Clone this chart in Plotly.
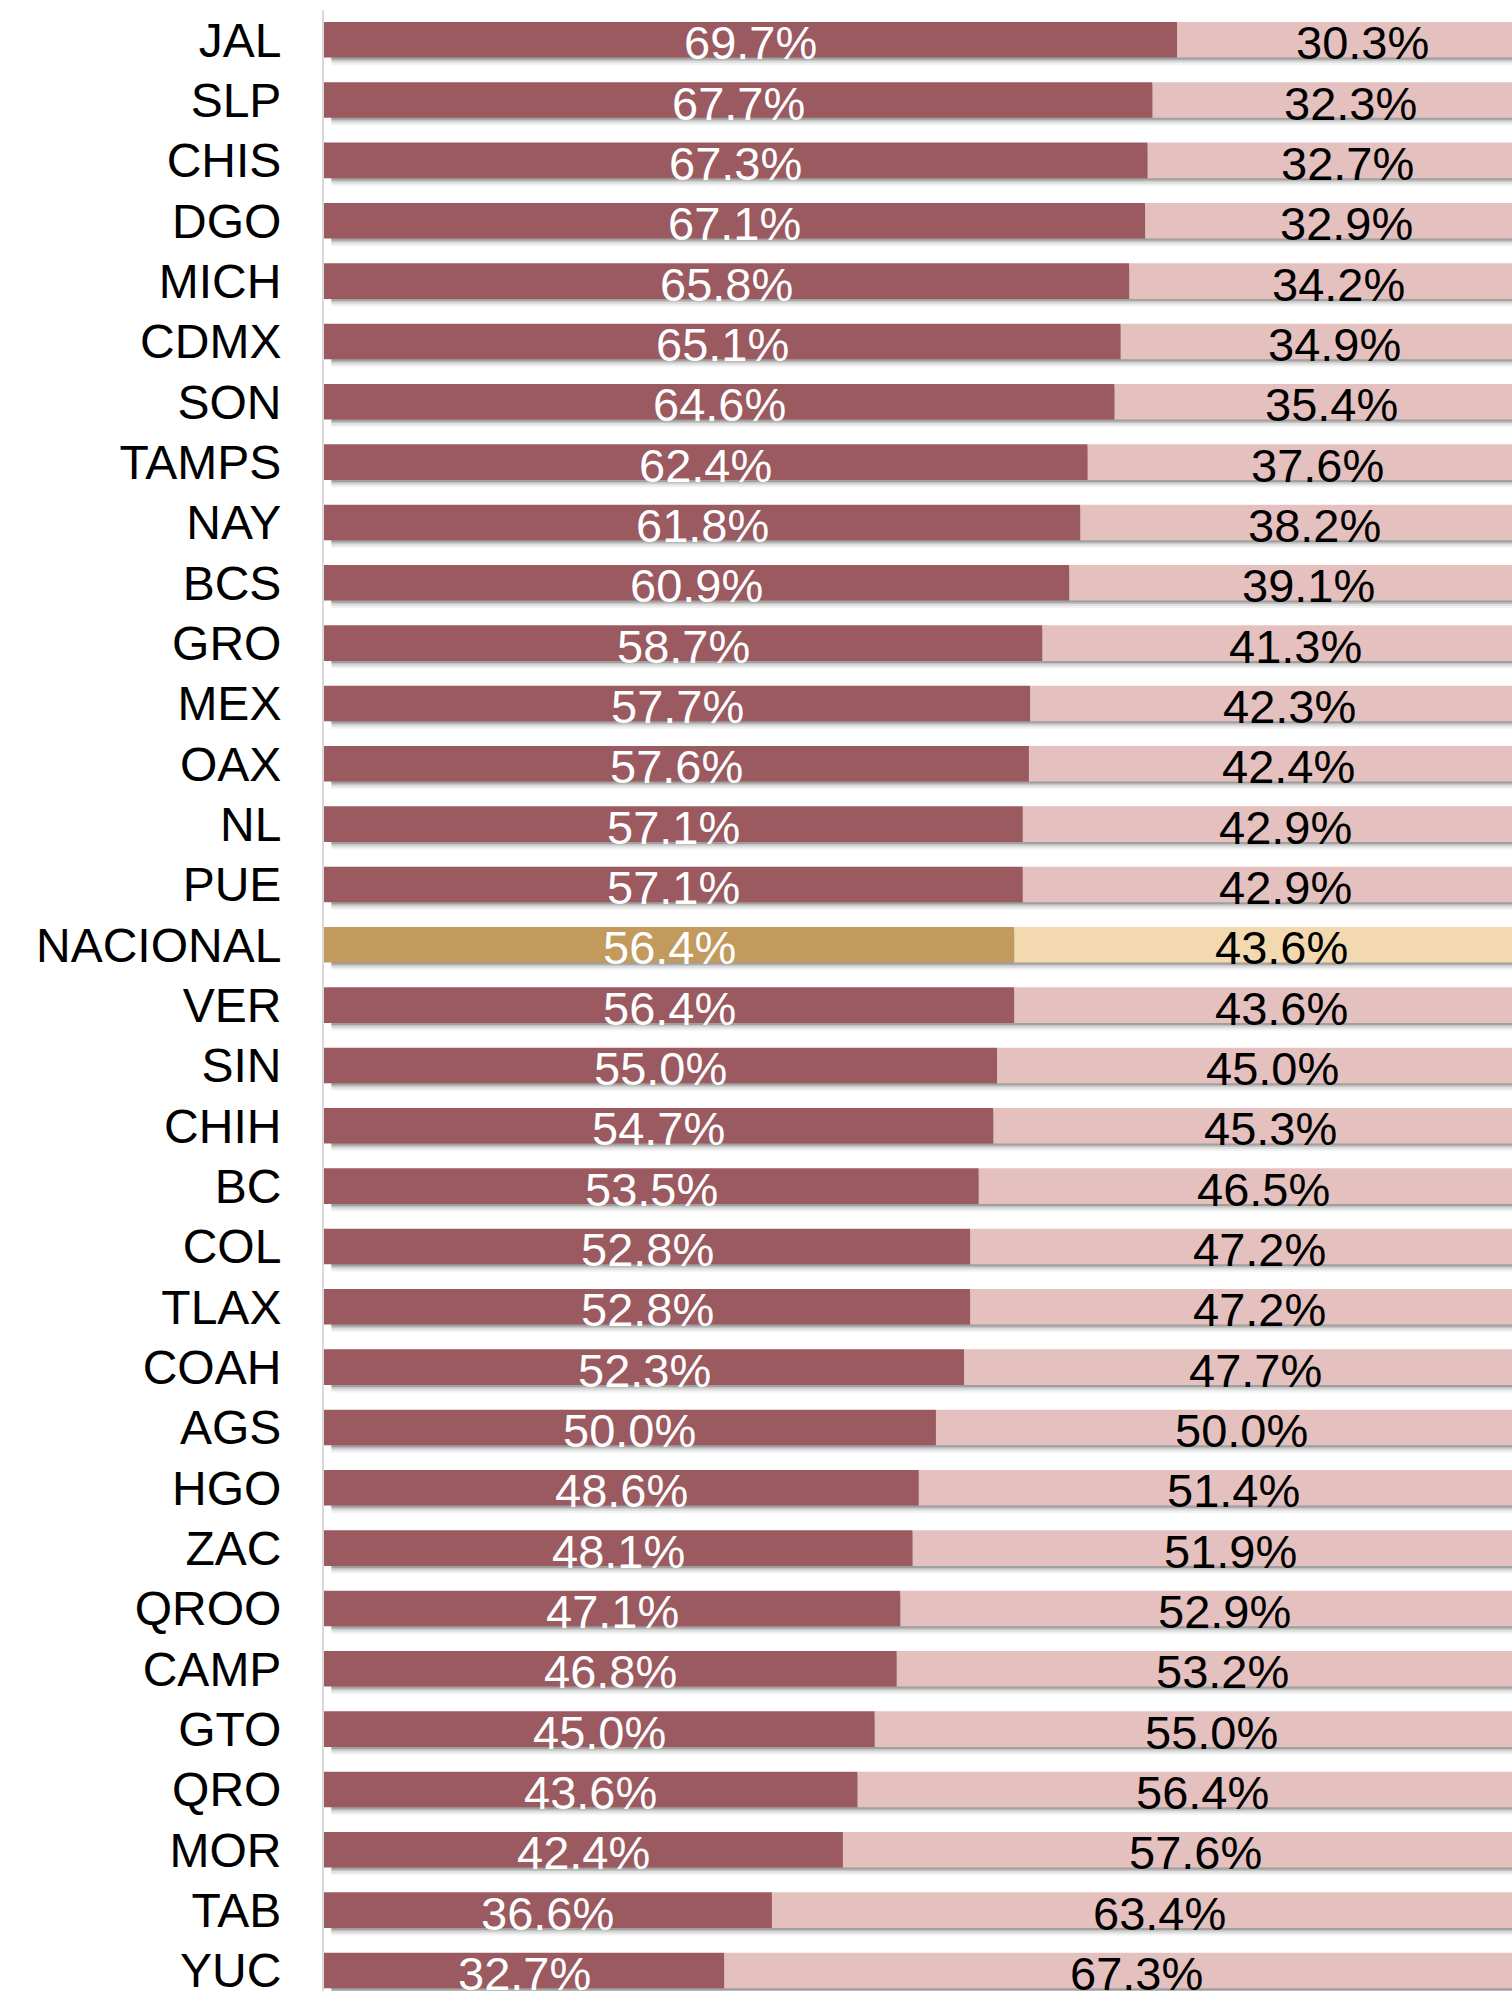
import plotly.graph_objects as go

states = ["JAL", "SLP", "CHIS", "DGO", "MICH", "CDMX", "SON", "TAMPS", "NAY", "BCS",
          "GRO", "MEX", "OAX", "NL", "PUE", "NACIONAL", "VER", "SIN", "CHIH", "BC",
          "COL", "TLAX", "COAH", "AGS", "HGO", "ZAC", "QROO", "CAMP", "GTO", "QRO",
          "MOR", "TAB", "YUC"]
share_a = [69.7, 67.7, 67.3, 67.1, 65.8, 65.1, 64.6, 62.4, 61.8, 60.9,
           58.7, 57.7, 57.6, 57.1, 57.1, 56.4, 56.4, 55.0, 54.7, 53.5,
           52.8, 52.8, 52.3, 50.0, 48.6, 48.1, 47.1, 46.8, 45.0, 43.6,
           42.4, 36.6, 32.7]
share_b = [30.3, 32.3, 32.7, 32.9, 34.2, 34.9, 35.4, 37.6, 38.2, 39.1,
           41.3, 42.3, 42.4, 42.9, 42.9, 43.6, 43.6, 45.0, 45.3, 46.5,
           47.2, 47.2, 47.7, 50.0, 51.4, 51.9, 52.9, 53.2, 55.0, 56.4,
           57.6, 63.4, 67.3]

DARK = "rgb(155,89,96)"
LIGHT = "rgb(228,192,191)"
DARK_N = "rgb(194,154,94)"
LIGHT_N = "rgb(242,217,176)"

dark_colors = [DARK_N if s == "NACIONAL" else DARK for s in states]
light_colors = [LIGHT_N if s == "NACIONAL" else LIGHT for s in states]
totals = [a + b for a, b in zip(share_a, share_b)]

PITCH = 60.53
BW = 35.7 / PITCH
FONT = "Liberation Sans, Arial"

fig = go.Figure()

# drop shadow layers
for d, a in [(7.5, 0.05), (5.5, 0.08), (3.5, 0.12), (2, 0.18)]:
    fig.add_trace(go.Bar(
        y=states, x=totals, base=[0.6] * len(states), orientation="h",
        width=BW, offset=-BW / 2 + d / PITCH,
        marker=dict(color=f"rgba(0,0,0,{a})", line=dict(width=0)),
        hoverinfo="skip", showlegend=False))

fig.add_trace(go.Bar(
    y=states, x=share_a, base=[0] * len(states), orientation="h",
    width=BW, offset=-BW / 2,
    marker=dict(color=dark_colors, line=dict(width=0)), showlegend=False))
fig.add_trace(go.Bar(
    y=states, x=share_b, base=share_a, orientation="h",
    width=BW, offset=-BW / 2,
    marker=dict(color=light_colors, line=dict(width=0)), showlegend=False))

annots = []
for s, a, b in zip(states, share_a, share_b):
    annots.append(dict(x=a / 2, y=s, xref="x", yref="y", text=f"{a:.1f}%",
                       showarrow=False, yshift=-3, xanchor="center", yanchor="middle",
                       font=dict(family=FONT, size=47, color="white")))
    annots.append(dict(x=a + b / 2, y=s, xref="x", yref="y", text=f"{b:.1f}%",
                       showarrow=False, yshift=-3, xanchor="center", yanchor="middle",
                       font=dict(family=FONT, size=47, color="black")))

fig.update_layout(
    width=1512, height=1997,
    margin=dict(l=324, r=0, t=10, b=0),
    paper_bgcolor="white", plot_bgcolor="white",
    barmode="overlay",
    annotations=annots,
    xaxis=dict(range=[0, 97.07], visible=False, showgrid=False, zeroline=False, fixedrange=True),
    yaxis=dict(type="category", range=[32.34, -0.493], autorange=False,
               showline=True, linecolor="#D9D9D9", linewidth=2,
               showgrid=False, zeroline=False, ticks="",
               ticklabelstandoff=31,
               tickfont=dict(family=FONT, size=48, color="black")),
    font=dict(family=FONT),
)

fig.write_html("out.html",
               config={"displayModeBar": False},
               post_script="document.body.style.margin='0';document.body.style.overflow='hidden';")
